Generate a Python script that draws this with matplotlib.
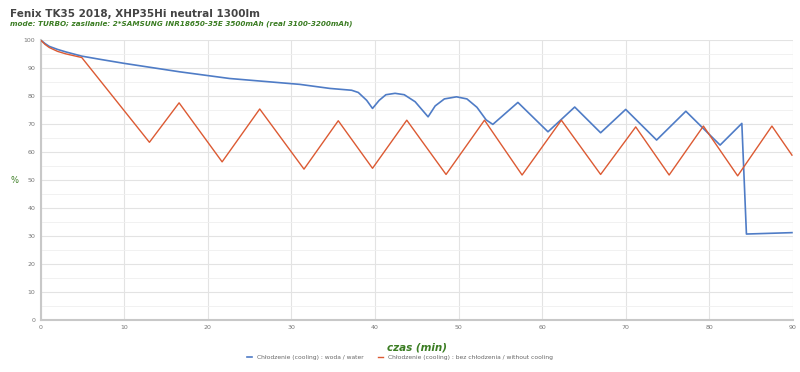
import matplotlib.pyplot as plt
from matplotlib.ticker import MultipleLocator

# data (time in min, battery output in %)
water_t = [0, 0.5, 1, 2, 3, 4.9, 7, 10, 16.6, 22.6, 31, 34.6, 37.2, 38.0, 39.0, 39.7,
           40.5, 41.3, 42.4, 43.5, 44.8, 46.35, 47.2, 48.3, 49.75, 51.0, 52.2, 53.3, 54.1,
           57.1, 60.7, 63.9, 67.0, 70.0, 73.7, 77.2, 81.3, 83.9, 84.45, 89.9]
water_v = [100, 98.8, 97.8, 96.7, 95.8, 94.3, 93.2, 91.7, 88.7, 86.3, 84.2, 82.75, 82.1, 81.3,
           78.5, 75.6, 78.5, 80.5, 81.0, 80.5, 78.0, 72.6, 76.5, 79.0, 79.75, 79.0, 76.0, 71.5,
           69.9, 77.75, 67.25, 76.1, 66.9, 75.25, 64.3, 74.6, 62.5, 70.25, 30.7, 31.2]

nocool_t = [0, 0.5, 1, 2, 3, 4.9, 13.0, 16.55, 21.7, 26.2, 31.5, 35.6, 39.7, 43.8, 48.5,
            53.1, 57.6, 62.3, 67.0, 71.2, 75.2, 79.3, 83.4, 87.5, 89.9]
nocool_v = [100, 98.5, 97.4, 96.0, 95.1, 93.8, 63.5, 77.6, 56.5, 75.4, 53.9, 71.2, 54.2, 71.4,
            52.0, 71.4, 51.8, 71.4, 52.0, 69.0, 51.8, 69.3, 51.5, 69.3, 58.9]

labels = ["Chłodzenie (cooling) : woda / water",
          "Chłodzenie (cooling) : bez chłodzenia / without cooling"]
colors = ["#4f7cc6", "#dc5a33"]

fig = plt.figure(figsize=(8, 3.72), dpi=100)
ax = fig.add_axes([0.051, 0.140, 0.940, 0.752])

ax.plot(water_t, water_v, color=colors[0], lw=1.2, label=labels[0], zorder=3)
ax.plot(nocool_t, nocool_v, color=colors[1], lw=1.0, label=labels[1], zorder=3)

ax.set_xlim(0, 90)
ax.set_ylim(0, 100)
ax.xaxis.set_major_locator(MultipleLocator(10))
ax.yaxis.set_major_locator(MultipleLocator(10))
ax.yaxis.set_minor_locator(MultipleLocator(5))
ax.grid(which="major", color="#e3e3e3", lw=0.8)
ax.grid(which="minor", axis="y", color="#efefef", lw=0.6)
ax.set_axisbelow(True)
ax.tick_params(which="both", labelsize=4.5, colors="#777777", length=0, pad=4)
for s in ["top", "right"]:
    ax.spines[s].set_visible(False)
for s in ["left", "bottom"]:
    ax.spines[s].set_color("#c8c8c8")
    ax.spines[s].set_linewidth(1.5)

ax.set_xlabel("czas (min)", fontsize=7.5, color="#3b7d23", style="italic",
              fontweight="bold", labelpad=9)
ax.set_ylabel("%", fontsize=6, color="#3b7d23", rotation=0, va="center")
ax.yaxis.set_label_coords(-0.035, 0.5)

fig.text(0.012, 0.963, "Fenix TK35 2018, XHP35Hi neutral 1300lm", fontsize=7.5,
         fontweight="bold", color="#444444", va="center")
fig.text(0.012, 0.935, "mode: TURBO; zasilanie: 2*SAMSUNG INR18650-35E 3500mAh (real 3100-3200mAh)",
         fontsize=5.2, style="italic", fontweight="bold", color="#3b7d23", va="center")

fig.legend(loc="center", bbox_to_anchor=(0.5, 0.04), ncol=2, frameon=False,
           fontsize=4.3, labelcolor="#666666", handlelength=0.8, columnspacing=2.5)

fig.savefig("out.png", dpi=100)
